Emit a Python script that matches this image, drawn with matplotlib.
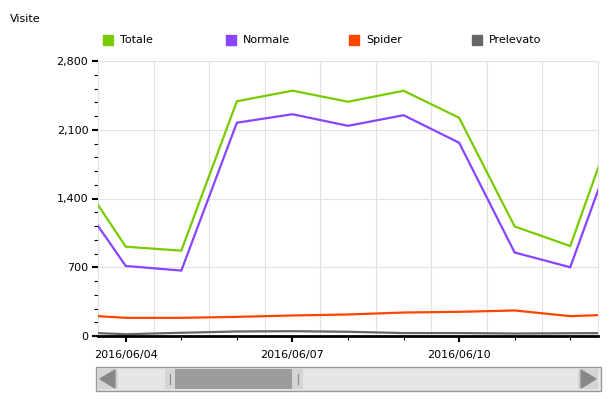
import numpy as np
import pandas as pd
import matplotlib
matplotlib.use("Agg")
import matplotlib.pyplot as plt
import matplotlib.dates as mdates
from matplotlib.patches import Rectangle, Polygon
from matplotlib.ticker import MultipleLocator, FuncFormatter

# ── data (daily, 06/03 and 06/13 fall just outside the visible window) ──
days = ["2016-06-03", "2016-06-04", "2016-06-05", "2016-06-06", "2016-06-07",
        "2016-06-08", "2016-06-09", "2016-06-10", "2016-06-11", "2016-06-12",
        "2016-06-13"]
totale    = [1760, 909, 869, 2390, 2498, 2385, 2497, 2222, 1115, 916, 2498]
normale   = [1527, 713, 666, 2172, 2258, 2140, 2248, 1968, 850, 700, 2261]
spider    = [219, 185, 185, 195, 209, 219, 239, 246, 260, 202, 222]
prelevato = [40, 18, 33, 46, 49, 43, 30, 30, 25, 28, 30]

series_names = ["Totale", "Normale", "Spider", "Prelevato"]
series_colors = ["#77cc00", "#8844ff", "#ff4500", "#666666"]

dates = pd.to_datetime(days)

plt.rcParams["font.family"] = ["DejaVu Sans"]
plt.rcParams["font.size"] = 8

fig = plt.figure(figsize=(6.14, 3.99), dpi=100)
W, H = 614, 399
ax = fig.add_axes([98 / W, 1 - 336 / H, 500 / W, 275 / H])

for vals, color in zip([totale, normale, spider, prelevato], series_colors):
    ax.plot(dates, vals, color=color, lw=1.6, solid_joinstyle="miter", zorder=3)

ax.set_xlim(pd.Timestamp("2016-06-03 12:00"), pd.Timestamp("2016-06-12 12:00"))
ax.set_ylim(0, 2800)

# grid: horizontal at major y ticks, vertical at noon of each day
ax.yaxis.set_major_locator(MultipleLocator(700))
ax.yaxis.set_minor_locator(MultipleLocator(140))
ax.yaxis.set_major_formatter(FuncFormatter(lambda v, p: f"{v:,.0f}"))
ax.grid(axis="y", which="major", color="#e2e2e2", lw=0.8, zorder=0)
for d in dates:
    ax.axvline(d + pd.Timedelta(hours=12), color="#e2e2e2", lw=0.8, zorder=0)

ax.xaxis.set_major_locator(mdates.DayLocator(bymonthday=[4, 7, 10]))
ax.xaxis.set_minor_locator(mdates.DayLocator())
ax.xaxis.set_major_formatter(mdates.DateFormatter("%Y/%m/%d"))

ax.tick_params(axis="both", which="major", length=4, width=1.5, color="black",
               labelsize=8, labelcolor="black")
ax.tick_params(axis="both", which="minor", length=3, width=0.8, color="black")
ax.tick_params(axis="x", which="major", pad=6)
ax.tick_params(axis="y", which="major", pad=3)

for side in ["top", "right", "left"]:
    ax.spines[side].set_color("#e2e2e2")
    ax.spines[side].set_linewidth(0.8)
ax.spines["bottom"].set_color("black")
ax.spines["bottom"].set_linewidth(2)
ax.spines["bottom"].set_zorder(5)

# title
fig.text(10 / W, 1 - 19 / H, "Visite", fontsize=8, va="center", ha="left")

# legend (manual, wide spacing)
for i, (name, color) in enumerate(zip(series_names, series_colors)):
    x0 = 103 + i * 123
    fig.patches.append(Rectangle((x0 / W, 1 - 45 / H), 10 / W, 10 / H,
                                 transform=fig.transFigure, color=color))
    fig.text((x0 + 17) / W, 1 - 40 / H, name, fontsize=8, va="center", ha="left")

# scrollbar below the chart
sb = fig.add_axes([0, 0, 1, 1], zorder=-1)
sb.set_xlim(0, W)
sb.set_ylim(H, 0)
sb.axis("off")
sb.add_patch(Rectangle((96, 367), 505, 24, facecolor="#e6e6e6", edgecolor="#999999", lw=1))
sb.add_patch(Rectangle((98, 369), 20, 20, facecolor="#d4d4d4", edgecolor="none"))
sb.add_patch(Rectangle((578, 369), 20, 20, facecolor="#d4d4d4", edgecolor="none"))
sb.add_patch(Polygon([[115, 370], [115, 388], [100, 379]], color="#888888"))
sb.add_patch(Polygon([[581, 370], [581, 388], [596, 379]], color="#888888"))
sb.add_patch(Rectangle((165, 369), 138, 20, facecolor="#d4d4d4", edgecolor="none"))
sb.add_patch(Rectangle((175, 369), 117, 20, facecolor="#9c9c9c", edgecolor="none"))
sb.plot([169.5, 169.5], [374, 384], color="#888888", lw=0.8)
sb.plot([298, 298], [374, 384], color="#888888", lw=0.8)

fig.savefig("out.png", dpi=100)
